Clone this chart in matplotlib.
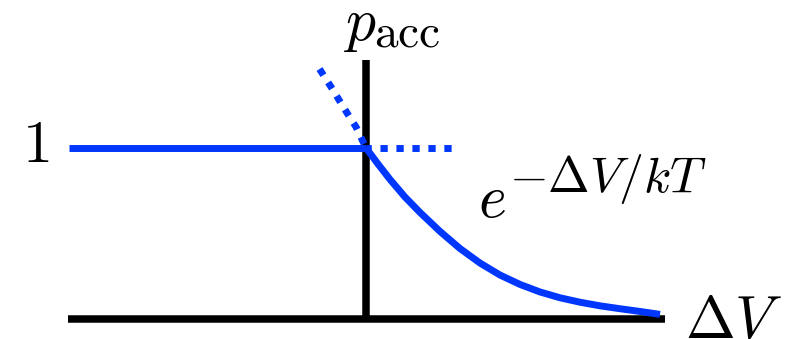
import matplotlib.pyplot as plt

plt.rcParams['mathtext.fontset'] = 'cm'

# acceptance probability vs energy change
dv_flat = [-2.97, 0.0]
p_flat = [1.0, 1.0]

dv_flat_dot = [0.0, 0.86]
p_flat_dot = [1.0, 1.0]

dv_exp = [0.0, 0.12, 0.24, 0.39, 0.54, 0.74, 0.94, 1.14, 1.34, 1.54,
          1.74, 1.94, 2.14, 2.34, 2.54, 2.74, 2.94]
p_exp = [1.0, 0.906, 0.816, 0.713, 0.623, 0.512, 0.412, 0.327, 0.257, 0.202,
         0.158, 0.124, 0.098, 0.077, 0.060, 0.044, 0.027]

dv_exp_dot = [0.0, -0.10, -0.19, -0.27, -0.35, -0.44, -0.48]
p_exp_dot = [1.0, 1.123, 1.205, 1.281, 1.357, 1.439, 1.475]

x_axis = [-2.98, 2.99]
y_axis_top = 1.515

blue = '#0037ff'
lw_blue = 5.0
lw_black = 5.4

fig = plt.figure(figsize=(7.9, 3.39), dpi=100)
ax = fig.add_axes([0, 0, 1, 1])
ax.set_xlim(-3.66, 4.24)
ax.set_ylim(-0.117, 1.865)
ax.axis('off')

# axes drawn by hand
ax.plot(x_axis, [0, 0], color='black', lw=lw_black, solid_capstyle='butt', zorder=1)
ax.plot([0, 0], [0, y_axis_top], color='black', lw=lw_black, solid_capstyle='butt', zorder=1)

ax.plot(dv_flat, p_flat, color=blue, lw=lw_blue, solid_capstyle='butt', zorder=3)
ax.plot(dv_exp, p_exp, color=blue, lw=lw_blue, solid_capstyle='butt',
        solid_joinstyle='round', zorder=3)
ax.plot(dv_flat_dot, p_flat_dot, color=blue, lw=lw_blue, dash_capstyle='butt',
        linestyle=(0.29, (1.05, 1.25)), zorder=2)
ax.plot(dv_exp_dot, p_exp_dot, color=blue, lw=lw_blue, dash_capstyle='butt',
        linestyle=(1.64, (1.05, 1.25)), zorder=2)

fs = 43
fs_small = 34
ax.text(-3.44, 0.918, r'$1$', fontsize=fs, ha='left', va='baseline')
ax.text(-0.23, 1.632, r'$p$', fontsize=fs, ha='left', va='baseline')
ax.text(0.08, 1.591, r'$\mathrm{acc}$', fontsize=fs_small, ha='left', va='baseline')
ax.text(1.12, 0.596, r'$e$', fontsize=fs, ha='left', va='baseline')
ax.text(1.43, 0.743, r'$-\Delta V/kT$', fontsize=36, ha='left', va='baseline')
ax.text(3.19, -0.111, r'$\Delta V$', fontsize=fs, ha='left', va='baseline')

fig.savefig('out.png', dpi=100)
